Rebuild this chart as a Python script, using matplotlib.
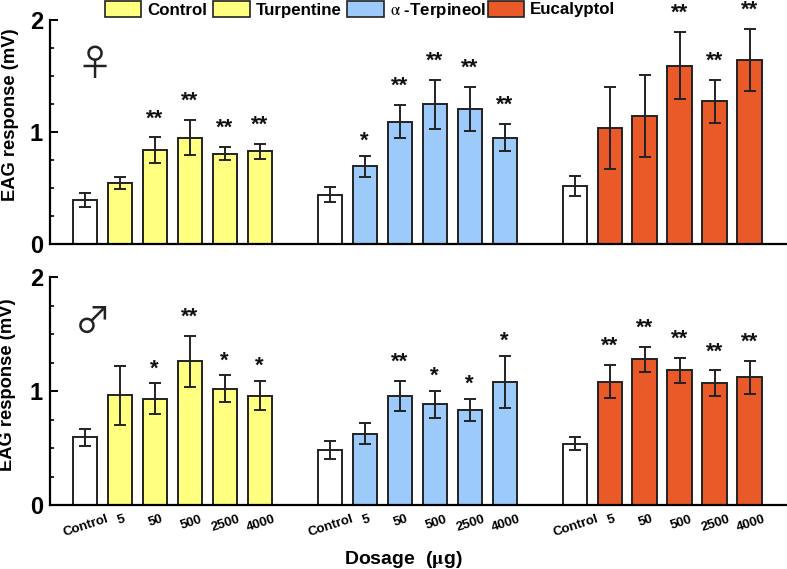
import matplotlib
matplotlib.use("Agg")
import matplotlib.pyplot as plt
import numpy as np
from matplotlib.patches import Patch
from matplotlib.ticker import MultipleLocator

plt.rcParams['font.family'] = ['Liberation Sans', 'DejaVu Sans']
plt.rcParams['mathtext.fontset'] = 'stix'

doses = ['Control', '5', '50', '500', '2500', '4000']
legend_labels = ['Control', 'Turpentine', r'$\mathrm{\alpha}$ -Terpineol', 'Eucalyptol']

female_turp = [0.39, 0.545, 0.836, 0.95, 0.806, 0.827]
female_turp_err = [0.061, 0.05, 0.115, 0.158, 0.06, 0.064]
female_turp_sig = ['', '', '**', '**', '**', '**']
female_terp = [0.44, 0.693, 1.092, 1.247, 1.205, 0.95]
female_terp_err = [0.067, 0.095, 0.146, 0.216, 0.194, 0.123]
female_terp_sig = ['', '*', '**', '**', '**', '**']
female_euc = [0.518, 1.036, 1.143, 1.592, 1.274, 1.643]
female_euc_err = [0.089, 0.366, 0.367, 0.30, 0.19, 0.28]
female_euc_sig = ['', '', '', '**', '**', '**']

male_turp = [0.595, 0.962, 0.93, 1.262, 1.02, 0.959]
male_turp_err = [0.076, 0.258, 0.136, 0.223, 0.117, 0.127]
male_turp_sig = ['', '', '*', '**', '*', '*']
male_terp = [0.481, 0.627, 0.956, 0.883, 0.834, 1.076]
male_terp_err = [0.077, 0.093, 0.133, 0.117, 0.095, 0.229]
male_terp_sig = ['', '', '**', '*', '*', '*']
male_euc = [0.539, 1.082, 1.277, 1.181, 1.07, 1.12]
male_euc_err = [0.055, 0.143, 0.11, 0.108, 0.11, 0.147]
male_euc_sig = ['', '**', '**', '**', '**', '**']

YELLOW, BLUE, ORANGE = '#FFFF80', '#9CCAFA', '#E95A28'
EDGE = '#222222'
W, H = 787, 569
fig = plt.figure(figsize=(W / 100, H / 100), dpi=100)


def make_axes(top_px, bottom_px):
    return fig.add_axes([50 / W, 1 - bottom_px / H, (W - 50) / W, (bottom_px - top_px) / H])


def draw_panel(ax, groups, symbol, sym_xy, sym_size, label_xy):
    for g, (vals, errs, sigs, color) in enumerate(groups):
        x = np.arange(6) + 7 * g
        colors = ['white'] + [color] * 5
        ax.bar(x, vals, width=0.71, color=colors, edgecolor=EDGE, linewidth=1.4, zorder=2)
        ax.errorbar(x, vals, yerr=errs, fmt='none', ecolor=EDGE, elinewidth=1.4,
                    capsize=4, capthick=1.4, zorder=3)
        for xi, v, e, s in zip(x, vals, errs, sigs):
            if s:
                ax.annotate(s, (xi, v + e), xytext=(-0.5, 13.5 if s == '**' else 10.5),
                            textcoords='offset points', ha='center', va='center',
                            fontsize=16, fontweight='bold', color='#111111')
    ax.set_xlim(-1, 20.06)
    ax.set_ylim(0, 2)
    for s in ('top', 'right'):
        ax.spines[s].set_visible(False)
    for s in ('left', 'bottom'):
        ax.spines[s].set_linewidth(1.6)
    ax.yaxis.set_major_locator(MultipleLocator(1))
    ax.yaxis.set_minor_locator(MultipleLocator(0.25))
    ax.tick_params(axis='y', which='major', direction='in', length=5.5, width=1.4,
                   labelsize=17, pad=5)
    ax.tick_params(axis='y', which='minor', direction='in', length=3, width=1.2)
    ax.set_yticks([0, 1, 2], ['0', '1', '2'], fontweight='bold')
    ax.set_ylabel('EAG response (mV)', fontsize=13.2, fontweight='bold')
    ax.yaxis.set_label_coords(*label_xy)
    ax.text(sym_xy[0], sym_xy[1], symbol, family=['Noto Sans CJK SC', 'DejaVu Sans'], fontsize=sym_size,
            ha='center', va='center', transform=ax.transAxes, color='#222222')


ax1 = make_axes(20, 244)
draw_panel(ax1, [(female_turp, female_turp_err, female_turp_sig, YELLOW),
                 (female_terp, female_terp_err, female_terp_sig, BLUE),
                 (female_euc, female_euc_err, female_euc_sig, ORANGE)],
           '\u2640', (45 / 737, 0.80), 26, (-0.042, 0.576))
ax1.set_xticks([])

ax2 = make_axes(277, 505)
draw_panel(ax2, [(male_turp, male_turp_err, male_turp_sig, YELLOW),
                 (male_terp, male_terp_err, male_terp_sig, BLUE),
                 (male_euc, male_euc_err, male_euc_sig, ORANGE)],
           '\u2642', (43 / 737, 0.80), 26, (-0.046, 0.526))
pos = np.concatenate([np.arange(6) + 7 * g for g in range(3)])
ax2.set_xticks(pos + 0.03, doses * 3, rotation=18, fontsize=9.5, fontweight='bold', ha='center')
ax2.tick_params(axis='x', length=0, pad=6)
ax2.set_xlabel(r'Dosage  ($\mathbf{\mu}$g)', fontsize=14, fontweight='bold')
ax2.xaxis.set_label_coords((404 - 50) / 737, -0.195)

handles = [Patch(facecolor=c, edgecolor=EDGE, linewidth=1.2) for c in (YELLOW, YELLOW, BLUE, ORANGE)]
leg_opts = dict(loc='upper left', frameon=False, prop={'size': 12.2, 'weight': 'bold'},
                handlelength=2.15, handleheight=1.05, handletextpad=0.35,
                columnspacing=0.35, borderpad=0, borderaxespad=0)
leg1 = fig.legend(handles[:3], legend_labels[:3], ncols=3, bbox_to_anchor=(105 / W, 0.9985), **leg_opts)
leg2 = fig.legend(handles[3:], legend_labels[3:], ncols=1, bbox_to_anchor=(488 / W, 0.9985), **leg_opts)

fig.savefig('out.png', dpi=100)
